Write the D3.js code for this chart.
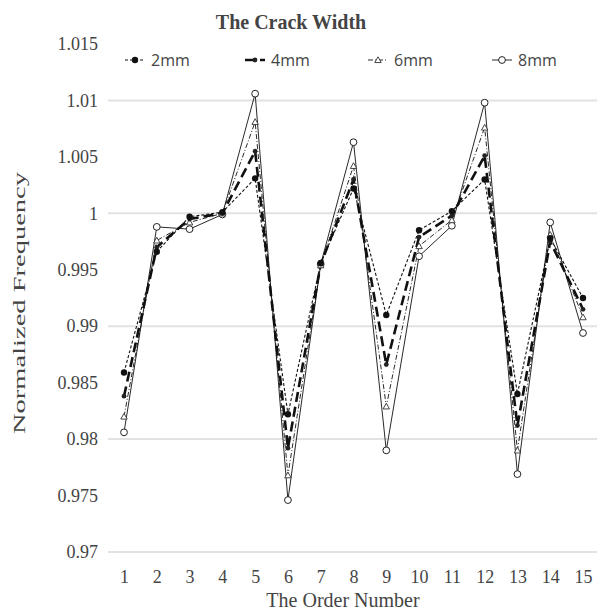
<!DOCTYPE html>
<html>
<head>
<meta charset="utf-8">
<script src="https://cdn.jsdelivr.net/npm/d3@7"></script>
<style>
  body { margin: 0; background: #fff; }
  svg text { fill: #444; }
</style>
</head>
<body>
<div id="chart"></div>
<script>
// Chart size
const width = 601;
const height = 615;

// Data
const orders = [1, 2, 3, 4, 5, 6, 7, 8, 9, 10, 11, 12, 13, 14, 15];
const mm2 = [0.9859, 0.9966, 0.9997, 1.0001, 1.0031, 0.9822, 0.9956, 1.0022, 0.9910, 0.9985, 1.0002, 1.0030, 0.9840, 0.9978, 0.9925];
const mm4 = [0.9838, 0.9970, 0.9995, 1.0000, 1.0055, 0.9792, 0.9955, 1.0030, 0.9866, 0.9979, 0.9998, 1.0051, 0.9812, 0.9975, 0.9915];
const mm6 = [0.9820, 0.9976, 0.9992, 1.0000, 1.0081, 0.9768, 0.9954, 1.0042, 0.9829, 0.9971, 0.9994, 1.0076, 0.9790, 0.9981, 0.9908];
const mm8 = [0.9806, 0.9988, 0.9986, 0.9999, 1.0106, 0.9746, 0.9955, 1.0063, 0.9790, 0.9962, 0.9989, 1.0098, 0.9769, 0.9992, 0.9894];
const yTicks = [0.97, 0.975, 0.98, 0.985, 0.99, 0.995, 1, 1.005, 1.01, 1.015];
const gridTicks = [0.97, 0.98, 0.99, 1, 1.01];
const seriesNames = ["2mm", "4mm", "6mm", "8mm"];

const series = [
    { name: seriesNames[0], values: mm2, dash: "3,2", width: 1.1, marker: "dot" },
    { name: seriesNames[1], values: mm4, dash: "10,5", width: 2.6, marker: "smalldot" },
    { name: seriesNames[2], values: mm6, dash: "5,2,1,2", width: 0.9, marker: "tri" },
    { name: seriesNames[3], values: mm8, dash: null, width: 0.9, marker: "circle" }
];

const svg = d3.select("#chart")
    .append("svg")
    .attr("width", width)
    .attr("height", height);

// Scales
const x = d3.scalePoint()
    .domain(orders)
    .range([124, 583]);

const y = d3.scaleLinear()
    .domain([0.97, 1.015])
    .range([552, 44]);

// Gridlines
svg.selectAll(".grid")
    .data(gridTicks)
    .enter().append("line")
    .attr("x1", 108)
    .attr("x2", 597)
    .attr("y1", d => y(d))
    .attr("y2", d => y(d))
    .attr("stroke", "#e2e2e2")
    .attr("stroke-width", 2);

// Y axis labels
const yAxis = d3.axisLeft(y)
    .tickValues(yTicks)
    .tickSize(0)
    .tickPadding(0)
    .tickFormat(d => d3.format("")(+d.toFixed(3)));

svg.append("g")
    .attr("transform", "translate(98,0)")
    .call(yAxis)
    .call(g => g.select(".domain").remove())
    .selectAll("text")
    .attr("font-family", "'Liberation Serif', serif")
    .attr("font-size", 18)
    .attr("fill", "#555");

// X axis labels
const xAxis = d3.axisBottom(x)
    .tickSize(0)
    .tickPadding(0);

svg.append("g")
    .attr("transform", "translate(0,570)")
    .call(xAxis)
    .call(g => g.select(".domain").remove())
    .selectAll("text")
    .attr("font-family", "'Liberation Serif', serif")
    .attr("font-size", 18)
    .attr("fill", "#555");

// Axis titles
svg.append("text")
    .attr("x", 343)
    .attr("y", 607)
    .attr("text-anchor", "middle")
    .attr("font-family", "'Liberation Serif', serif")
    .attr("font-size", 20)
    .attr("fill", "#333")
    .text("The Order Number");

svg.append("text")
    .attr("transform", "translate(25,303) rotate(-90)")
    .attr("text-anchor", "middle")
    .attr("font-family", "'Liberation Serif', serif")
    .attr("font-size", 16)
    .attr("fill", "#333")
    .attr("textLength", 262)
    .attr("lengthAdjust", "spacingAndGlyphs")
    .text("Normalized Frequency");

// Title
svg.append("text")
    .attr("x", 291)
    .attr("y", 29)
    .attr("text-anchor", "middle")
    .attr("font-family", "'Liberation Serif', serif")
    .attr("font-weight", "bold")
    .attr("font-size", 20)
    .attr("fill", "#111")
    .text("The Crack Width");

// Lines
const line = d3.line()
    .x((d, i) => x(orders[i]))
    .y(d => y(d));

function drawMarker(g, type, cx, cy) {
    if (type === "dot") {
        g.append("circle").attr("cx", cx).attr("cy", cy).attr("r", 3.2).attr("fill", "#111");
    } else if (type === "smalldot") {
        g.append("circle").attr("cx", cx).attr("cy", cy).attr("r", 2.4).attr("fill", "#222");
    } else if (type === "tri") {
        const s = 3.2;
        g.append("path")
            .attr("d", `M${cx},${cy - s}L${cx + s},${cy + s * 0.8}L${cx - s},${cy + s * 0.8}Z`)
            .attr("fill", "#fff").attr("stroke", "#333").attr("stroke-width", 0.9);
    } else {
        g.append("circle").attr("cx", cx).attr("cy", cy).attr("r", 3.4)
            .attr("fill", "#fff").attr("stroke", "#222").attr("stroke-width", 1);
    }
}

// draw 8mm first so the others sit on top
series.slice().reverse().forEach(s => {
    svg.append("path")
        .datum(s.values)
        .attr("d", line)
        .attr("fill", "none")
        .attr("stroke", "#111")
        .attr("stroke-width", s.width)
        .attr("stroke-dasharray", s.dash);
});

series.slice().reverse().forEach(s => {
    const g = svg.append("g");
    s.values.forEach((v, i) => drawMarker(g, s.marker, x(orders[i]), y(v)));
});

// Legend
const legendX = [125, 245, 368, 492];
const legend = svg.append("g");
series.forEach((s, i) => {
    const lx = legendX[i];
    legend.append("line")
        .attr("x1", lx).attr("x2", lx + 20)
        .attr("y1", 60).attr("y2", 60)
        .attr("stroke", "#111")
        .attr("stroke-width", s.width)
        .attr("stroke-dasharray", s.dash);
    drawMarker(legend, s.marker, lx + 10, 60);
    legend.append("text")
        .attr("x", lx + 26)
        .attr("y", 66)
        .attr("font-family", "'Open Sans', sans-serif")
        .attr("font-size", 16)
        .attr("fill", "#444")
        .text(s.name);
});
</script>
</body>
</html>
